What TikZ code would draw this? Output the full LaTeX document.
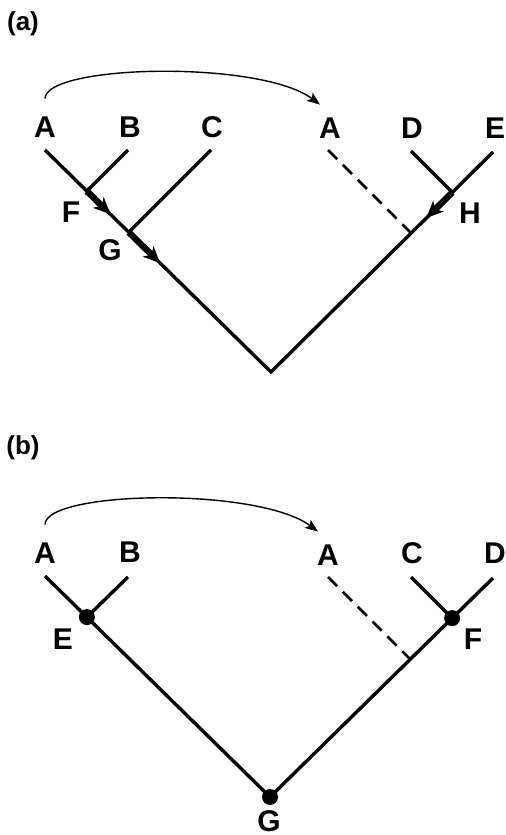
\documentclass[tikz,border=0pt]{standalone}
\usepackage{fontspec}
\setmainfont{Liberation Sans}
\usetikzlibrary{arrows.meta,calc}
\tikzset{
  every picture/.style={color=black, font=\bfseries\fontsize{15}{17}\selectfont},
  taxon/.style={inner sep=0pt, text height=10pt, text depth=0pt},
  panel/.style={inner sep=0pt, font=\bfseries\fontsize{13}{15}\selectfont},
  branch/.style={line width=1.7pt},
  lost/.style={line width=1.4pt, dash pattern=on 6.5pt off 4pt},
  gene/.style={line width=3.2pt, -{Stealth[length=8.5pt,width=7.5pt,inset=2.5pt]}},
  transfer/.style={line width=0.7pt, -{Stealth[length=6.5pt,width=5pt,inset=1.5pt]}},
  dot/.style={circle, fill, inner sep=0pt, minimum size=8pt},
}

\begin{document}
\begin{tikzpicture}[x=0.5pt, y=-0.5pt]
  \useasboundingbox (0,0) rectangle (506,835);

  % (a) gene tree with transfer
  \node[panel] (pa) at (23,24) {(a)};
  \node[taxon] (aA) at (45,127) {A};
  \node[taxon] (aB) at (130,127) {B};
  \node[taxon] (aC) at (212,127) {C};
  \node[taxon] (aA2) at (330,128) {A};
  \node[taxon] (aD) at (412,128) {D};
  \node[taxon] (aE) at (495,128) {E};
  \coordinate (atA) at (45,150);
  \coordinate (atB) at (128,150);
  \coordinate (atC) at (211,150);
  \coordinate (atA2) at (328,150);
  \coordinate (atD) at (411,151);
  \coordinate (atE) at (493,152);
  \coordinate (aR) at (271,372);
  \coordinate (aF) at ($(atA)!0.185!(aR)$);
  \coordinate (aG) at ($(atA)!0.3705!(aR)$);
  \coordinate (aH) at ($(atE)!0.1833!(aR)$);
  \coordinate (aX) at ($(atE)!0.3688!(aR)$);
  \draw[branch] (atA) -- (aR) -- (atE);
  \draw[branch] (atB) -- (aF);
  \draw[branch] (atC) -- (aG);
  \draw[branch] (atD) -- (aH);
  \draw[lost] (atA2) -- (aX);
  \draw[gene] (aF) -- ($(atA)!0.29!(aR)$);
  \draw[gene] (aG) -- ($(atA)!0.51!(aR)$);
  \draw[gene] (aH) -- ($(atE)!0.30!(aR)$);
  \node[taxon] (aFl) at (71,212) {F};
  \node[taxon] (aGl) at (110,250) {G};
  \node[taxon] (aHl) at (470,213) {H};
  \draw[transfer] ([yshift=9pt]aA.north) .. controls +(0,-34) and +(-60,-45) .. ([xshift=-5pt,yshift=6.5pt]aA2.north);

  % (b) species tree
  \node[panel] (pb) at (23,448) {(b)};
  \node[taxon] (bA) at (45,553) {A};
  \node[taxon] (bB) at (130,552) {B};
  \node[taxon] (bA2) at (328,555) {A};
  \node[taxon] (bC) at (412,553) {C};
  \node[taxon] (bD) at (495,553) {D};
  \coordinate (btA) at (45,576);
  \coordinate (btB) at (128,577);
  \coordinate (btA2) at (328,577);
  \coordinate (btC) at (411,577);
  \coordinate (btD) at (493,578);
  \coordinate (bR) at (270,797);
  \coordinate (bE) at ($(btA)!0.186!(bR)$);
  \coordinate (bF) at ($(btD)!0.1833!(bR)$);
  \coordinate (bX) at ($(btD)!0.371!(bR)$);
  \draw[branch] (btA) -- (bR) -- (btD);
  \draw[branch] (btB) -- (bE);
  \draw[branch] (btC) -- (bF);
  \draw[lost] (btA2) -- (bX);
  \node[dot] (bEd) at (bE) {};
  \node[dot] (bFd) at (bF) {};
  \node[dot] (bGd) at (bR) {};
  \node[taxon] (bEl) at (63,639) {E};
  \node[taxon] (bFl) at (473,639) {F};
  \node[taxon] (bGl) at (269,821) {G};
  \draw[transfer] ([yshift=9pt]bA.north) .. controls +(0,-34) and +(-60,-45) .. ([xshift=-5pt,yshift=6.5pt]bA2.north);
\end{tikzpicture}
\end{document}
